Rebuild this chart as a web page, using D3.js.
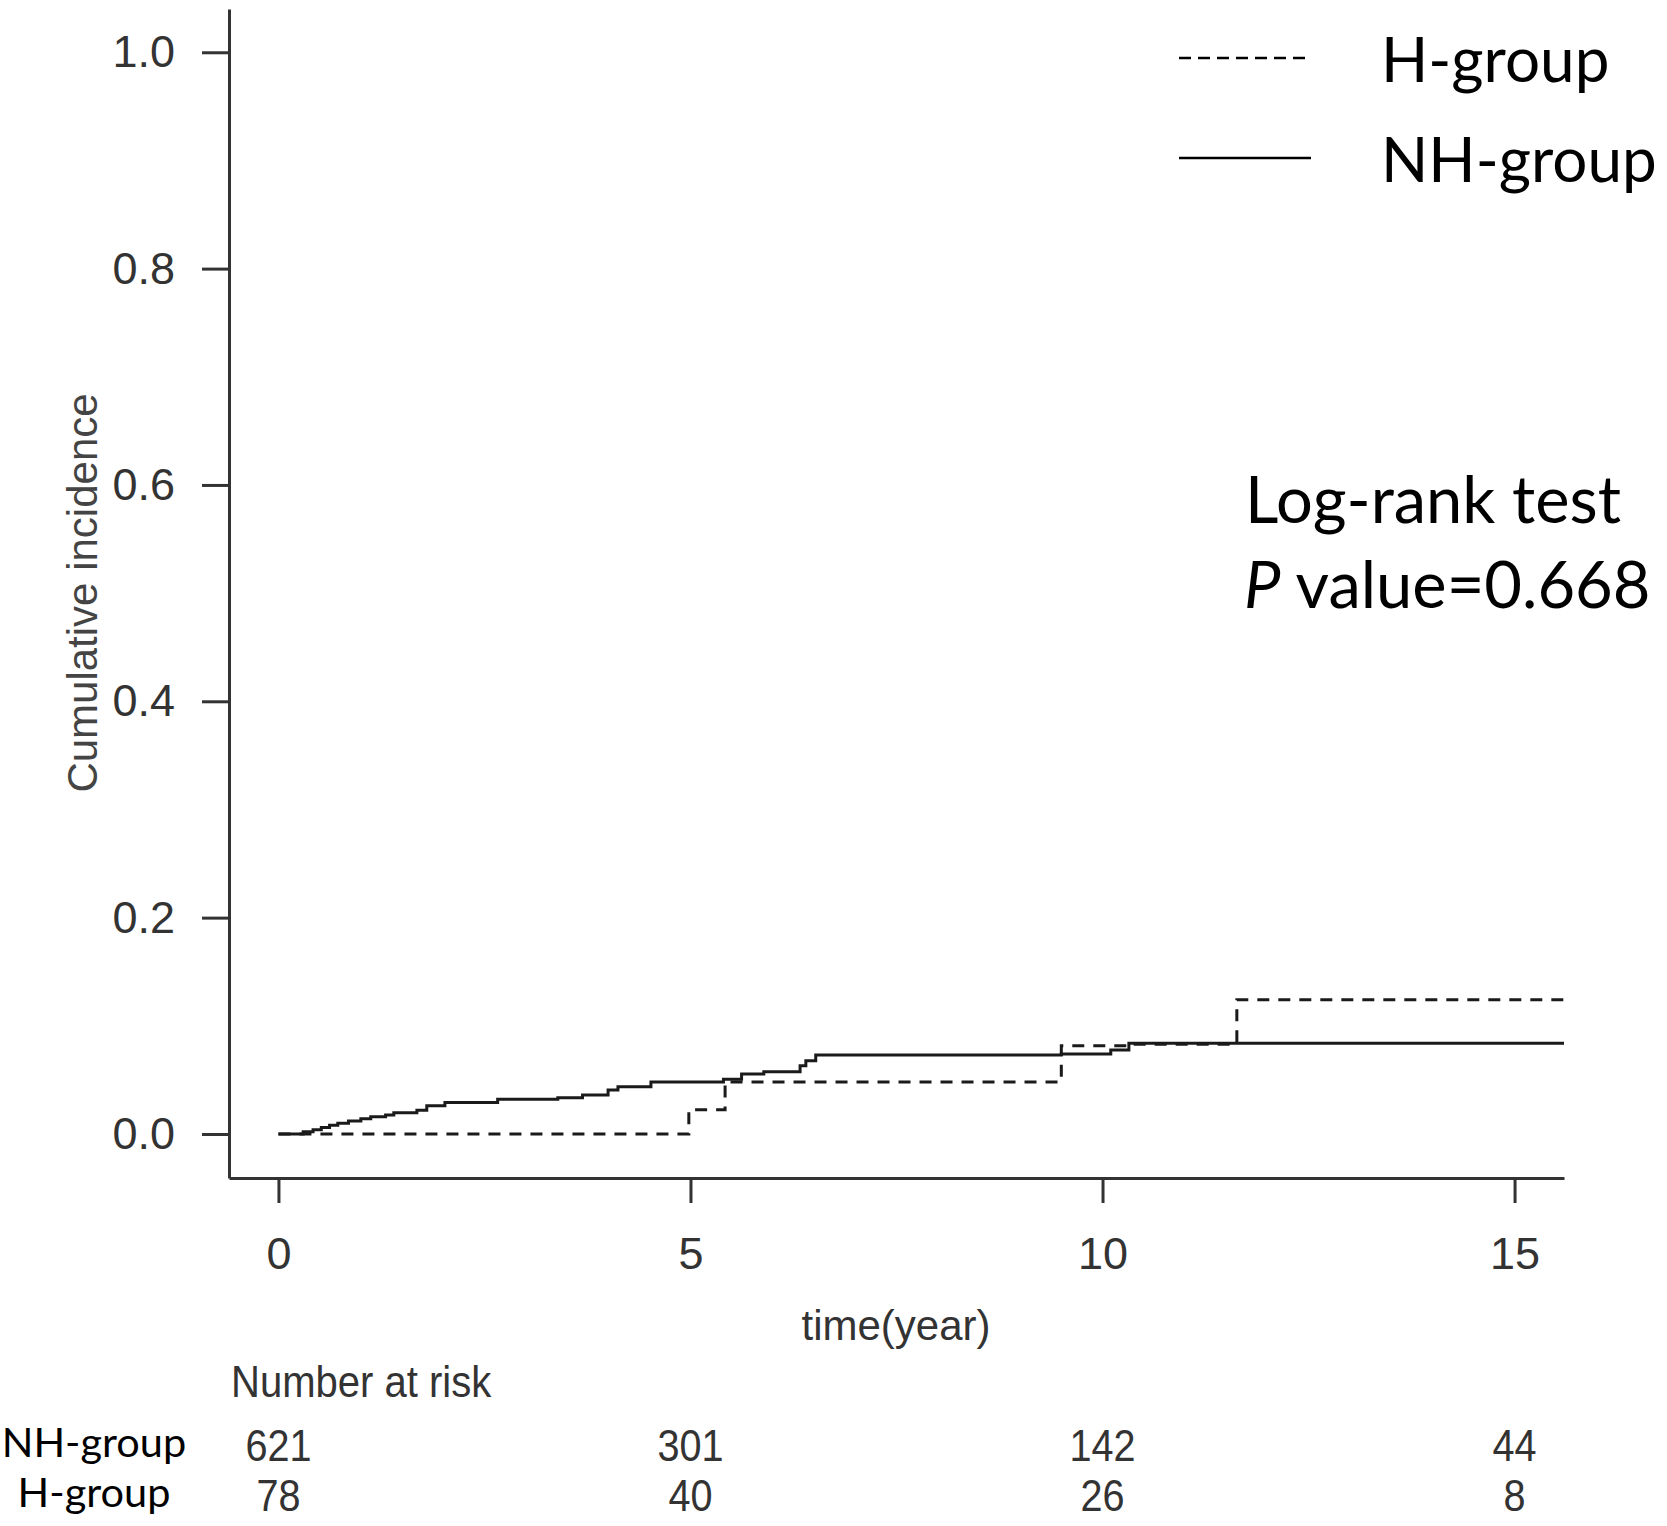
<!DOCTYPE html>
<html lang="en">
  <head>
    <meta charset="utf-8" />
    <title>Cumulative incidence</title>
    <style>
      body {
        margin: 0;
        background: #fff;
      }
      .axis text {
        font-family: 'Liberation Sans', Arial, sans-serif;
        font-size: 45px;
        fill: #333;
      }
      .axis path,
      .axis line {
        stroke: #333;
        stroke-width: 3px;
      }
      .calibri {
        font-family: Lato, 'Open Sans', sans-serif;
        fill: #000;
      }
      .arial {
        font-family: 'Liberation Sans', Arial, sans-serif;
        fill: #333;
      }
    </style>
  </head>

  <body>
    <div id="chart"></div>

    <script src="https://cdnjs.cloudflare.com/ajax/libs/d3/7.4.4/d3.min.js"></script>
    <script type="text/javascript">
      // Step curves (time in years, cumulative incidence)
      var nhTimes = [0, 0.3, 0.42, 0.52, 0.62, 0.72, 0.85, 1.0, 1.12, 1.3, 1.4, 1.68, 1.8, 2.02, 2.66, 3.39, 3.69, 4.0, 4.12, 4.52, 5.4, 5.62, 5.89, 6.33, 6.4, 6.52, 9.5, 10.1, 10.32, 15.6]
      var nhValues = [0, 0.002, 0.004, 0.006, 0.008, 0.01, 0.012, 0.014, 0.016, 0.0176, 0.0197, 0.022, 0.026, 0.029, 0.032, 0.0336, 0.036, 0.0407, 0.0437, 0.048, 0.0505, 0.0555, 0.0576, 0.063, 0.0678, 0.073, 0.074, 0.0776, 0.0838, 0.0838]
      var hTimes = [0, 4.98, 5.42, 9.5, 10.3, 11.63, 15.6]
      var hValues = [0, 0.0225, 0.048, 0.0815, 0.083, 0.124, 0.124]

      var xTicks = [0, 5, 10, 15]
      var yTicks = [0, 0.2, 0.4, 0.6, 0.8, 1.0]

      // Number at risk table
      var riskGroups = ['NH-group', 'H-group']
      var riskNH = [621, 301, 142, 44]
      var riskH = [78, 40, 26, 8]

      var width = 1667,
        height = 1526

      var svg = d3.select('#chart').append('svg').attr('width', width).attr('height', height)

      var x = d3.scaleLinear().domain([-0.6, 15.6]).range([229, 1564])
      var y = d3.scaleLinear().domain([-0.0407, 1.04]).range([1178, 9])

      // Axes (R style, L-shaped box)
      svg
        .append('g')
        .attr('class', 'axis')
        .attr('transform', 'translate(229,0)')
        .call(d3.axisLeft(y).tickValues(yTicks).tickFormat(d3.format('.1f')).tickSize(27).tickSizeOuter(0).tickPadding(27))
      svg
        .append('g')
        .attr('class', 'axis')
        .attr('transform', 'translate(0,1178)')
        .call(d3.axisBottom(x).tickValues(xTicks).tickSize(25).tickSizeOuter(0).tickPadding(34))

      // Axis titles
      svg
        .append('text')
        .attr('class', 'arial')
        .attr('transform', 'translate(97,593) rotate(-90)')
        .attr('text-anchor', 'middle')
        .style('font-size', '42px')
        .style('fill', '#444')
        .text('Cumulative incidence')
      svg
        .append('text')
        .attr('class', 'arial')
        .attr('x', 896)
        .attr('y', 1340)
        .attr('text-anchor', 'middle')
        .style('font-size', '42px')
        .text('time(year)')

      // Curves
      var line = d3
        .line()
        .x((d) => x(d[0]))
        .y((d) => y(d[1]))
        .curve(d3.curveStepAfter)

      svg
        .append('path')
        .datum(d3.zip(nhTimes, nhValues))
        .attr('d', line)
        .attr('fill', 'none')
        .attr('stroke', '#1a1a1a')
        .attr('stroke-width', 3)
      svg
        .append('path')
        .datum(d3.zip(hTimes, hValues))
        .attr('d', line)
        .attr('fill', 'none')
        .attr('stroke', '#1a1a1a')
        .attr('stroke-width', 3)
        .attr('stroke-dasharray', '12,9')

      // Legend
      var legend = [
        { name: 'H-group', dash: '12,7', y: 58 },
        { name: 'NH-group', dash: null, y: 158 }
      ]
      legend.forEach(function (d) {
        svg
          .append('line')
          .attr('x1', 1179)
          .attr('x2', 1311)
          .attr('y1', d.y)
          .attr('y2', d.y)
          .attr('stroke', '#000')
          .attr('stroke-width', 2.5)
          .attr('stroke-dasharray', d.dash)
        svg
          .append('text')
          .attr('class', 'calibri')
          .attr('x', 1381)
          .attr('y', d.y + 24)
          .style('font-size', '62px')
          .text(d.name)
      })

      // Log-rank annotation
      svg.append('text').attr('class', 'calibri').attr('x', 1245).attr('y', 523).style('font-size', '65px').text('Log-rank test')
      var pv = svg.append('text').attr('class', 'calibri').attr('x', 1244).attr('y', 608).style('font-size', '65px')
      pv.append('tspan').style('font-style', 'italic').text('P')
      pv.append('tspan').text(' value=0.668')

      // Number at risk (condensed, as in the original)
      svg
        .append('text')
        .attr('class', 'arial')
        .attr('transform', 'translate(231,1397) scale(0.91,1)')
        .style('font-size', '44px')
        .text('Number at risk')

      var rows = [riskNH, riskH]
      var rowY = [1461, 1511]
      rows.forEach(function (vals, i) {
        svg
          .append('text')
          .attr('class', 'calibri')
          .attr('x', 94)
          .attr('y', rowY[i] - 4)
          .attr('text-anchor', 'middle')
          .style('font-size', '41.5px')
          .text(riskGroups[i])
        svg
          .selectAll(null)
          .data(vals)
          .enter()
          .append('text')
          .attr('class', 'arial')
          .attr('transform', (d, j) => 'translate(' + x(xTicks[j]) + ',' + rowY[i] + ') scale(0.88,1)')
          .attr('text-anchor', 'middle')
          .style('font-size', '45px')
          .text((d) => d)
      })
    </script>
  </body>
</html>
